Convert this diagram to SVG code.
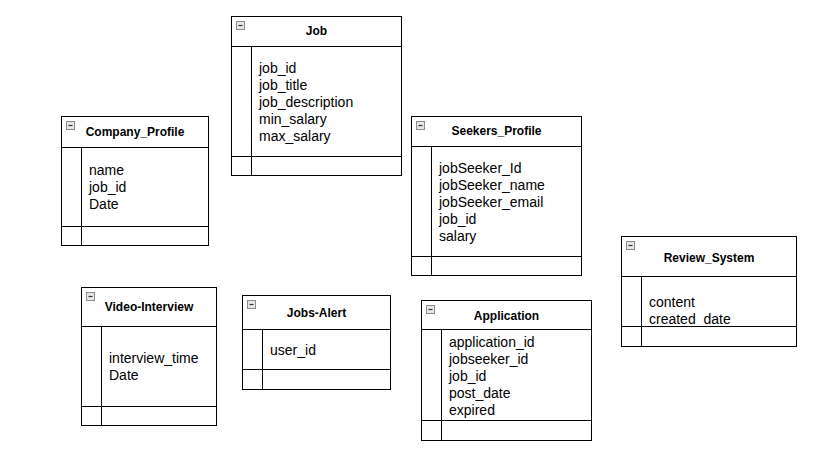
<svg xmlns="http://www.w3.org/2000/svg" width="834" height="457" viewBox="0 0 834 457">
<style>
  .box { fill: #ffffff; stroke: #000000; stroke-width: 1; }
  .ln { stroke: #000000; stroke-width: 1; fill: none; }
  .ico { fill: #e6e6e6; stroke: #8c8c8c; stroke-width: 1; }
  .icol { stroke: #333333; stroke-width: 1.2; }
  .title { font-family: "Liberation Sans", Arial, sans-serif; font-size: 12px; font-weight: bold; fill: #000000; text-anchor: middle; }
  .fld { font-family: "Liberation Sans", Arial, sans-serif; font-size: 14px; fill: #000000; }
</style>
<rect width="834" height="457" fill="#ffffff"/>
<g id="connectors"/>

<g id="job">
  <rect class="box" x="231.5" y="16.5" width="170" height="159"/>
  <path class="ln" d="M231.5 46.5H401.5M251.5 46.5V175.5M231.5 156.5H401.5"/>
  <rect class="ico" x="236.5" y="21.5" width="8" height="8"/>
  <path class="icol" d="M238.5 25.5H242.5"/>
  <text class="title" x="316.5" y="35">Job</text>
  <text class="fld" x="259" y="73">job_id</text>
  <text class="fld" x="259" y="90">job_title</text>
  <text class="fld" x="259" y="107">job_description</text>
  <text class="fld" x="259" y="124">min_salary</text>
  <text class="fld" x="259" y="141">max_salary</text>
</g>

<g id="company_profile">
  <rect class="box" x="61.5" y="116.5" width="147" height="129"/>
  <path class="ln" d="M61.5 147.5H208.5M81.5 147.5V245.5M61.5 226.5H208.5"/>
  <rect class="ico" x="66.5" y="121.5" width="8" height="8"/>
  <path class="icol" d="M68.5 125.5H72.5"/>
  <text class="title" x="135" y="136">Company_Profile</text>
  <text class="fld" x="89" y="175">name</text>
  <text class="fld" x="89" y="192">job_id</text>
  <text class="fld" x="89" y="209">Date</text>
</g>

<g id="seekers_profile">
  <rect class="box" x="411.5" y="116.5" width="170" height="159"/>
  <path class="ln" d="M411.5 146.5H581.5M431.5 146.5V275.5M411.5 256.5H581.5"/>
  <rect class="ico" x="416.5" y="121.5" width="8" height="8"/>
  <path class="icol" d="M418.5 125.5H422.5"/>
  <text class="title" x="496.5" y="135">Seekers_Profile</text>
  <text class="fld" x="439" y="173">jobSeeker_Id</text>
  <text class="fld" x="439" y="190">jobSeeker_name</text>
  <text class="fld" x="439" y="207">jobSeeker_email</text>
  <text class="fld" x="439" y="224">job_id</text>
  <text class="fld" x="439" y="241">salary</text>
</g>

<g id="review_system">
  <rect class="box" x="621.5" y="236.5" width="175" height="110"/>
  <path class="ln" d="M621.5 276.5H796.5M641.5 276.5V346.5M621.5 326.5H796.5"/>
  <rect class="ico" x="626.5" y="241.5" width="8" height="8"/>
  <path class="icol" d="M628.5 245.5H632.5"/>
  <text class="title" x="709" y="262">Review_System</text>
  <text class="fld" x="649" y="307">content</text>
  <text class="fld" x="649" y="324">created_date</text>
</g>

<g id="video_interview">
  <rect class="box" x="81.5" y="287.5" width="135" height="138"/>
  <path class="ln" d="M81.5 326.5H216.5M101.5 326.5V425.5M81.5 406.5H216.5"/>
  <rect class="ico" x="86.5" y="292.5" width="8" height="8"/>
  <path class="icol" d="M88.5 296.5H92.5"/>
  <text class="title" x="149" y="311">Video-Interview</text>
  <text class="fld" x="109" y="363">interview_time</text>
  <text class="fld" x="109" y="380">Date</text>
</g>

<g id="jobs_alert">
  <rect class="box" x="242.5" y="295.5" width="148" height="94"/>
  <path class="ln" d="M242.5 329.5H390.5M262.5 329.5V389.5M242.5 369.5H390.5"/>
  <rect class="ico" x="247.5" y="300.5" width="8" height="8"/>
  <path class="icol" d="M249.5 304.5H253.5"/>
  <text class="title" x="316.5" y="317">Jobs-Alert</text>
  <text class="fld" x="270" y="355">user_id</text>
</g>

<g id="application">
  <rect class="box" x="421.5" y="300.5" width="170" height="140"/>
  <path class="ln" d="M421.5 329.5H591.5M441.5 329.5V440.5M421.5 420.5H591.5"/>
  <rect class="ico" x="426.5" y="305.5" width="8" height="8"/>
  <path class="icol" d="M428.5 309.5H432.5"/>
  <text class="title" x="506.5" y="320">Application</text>
  <text class="fld" x="449" y="347">application_id</text>
  <text class="fld" x="449" y="364">jobseeker_id</text>
  <text class="fld" x="449" y="381">job_id</text>
  <text class="fld" x="449" y="398">post_date</text>
  <text class="fld" x="449" y="415">expired</text>
</g>
</svg>
